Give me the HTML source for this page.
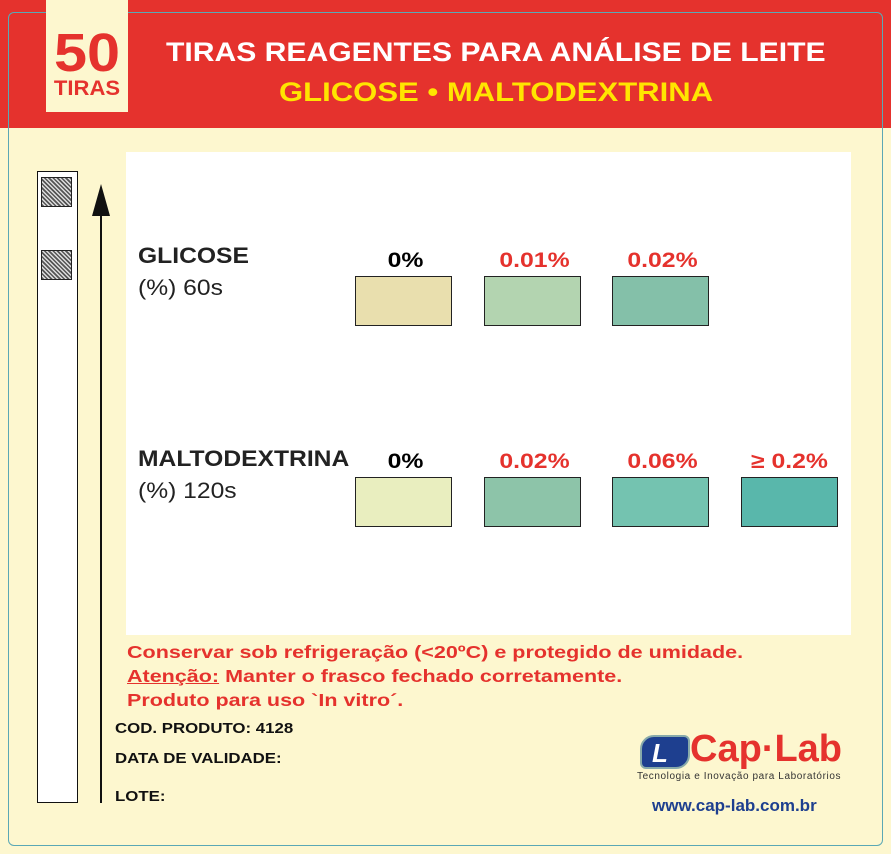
<!DOCTYPE html>
<html><head><meta charset="utf-8"><style>
*{margin:0;padding:0;box-sizing:border-box}
body{width:891px;height:854px;position:relative;background:#fdf7cf;font-family:"Liberation Sans",sans-serif;overflow:hidden}
.a{position:absolute}
.hdr{left:0;top:0;width:891px;height:128px;background:#e5322d}
.t{color:#fff;font-weight:bold;font-size:27px;white-space:nowrap;transform:scaleX(1.115);transform-origin:left}
.y{color:#ffe500;font-weight:bold;font-size:27px;white-space:nowrap;transform:scaleX(1.15);transform-origin:left}
.sw{border:1.5px solid #222;width:97px;height:50px}
.pl{font-weight:bold;font-size:21px;white-space:nowrap;text-align:center;width:97px;transform:scaleX(1.18)}
.r{color:#e5322d}
.red{color:#e5322d;font-weight:bold;font-size:17.5px;white-space:nowrap;transform:scaleX(1.23);transform-origin:left}
.blk{color:#111;font-weight:bold;font-size:14.5px;white-space:nowrap;transform:scaleX(1.16);transform-origin:left}
.pad{left:41px;width:31px;height:30px;border:1.5px solid #222;background:repeating-linear-gradient(45deg,#555 0 1.5px,#ddd 1.5px 3px)}
.lb{transform:scaleX(1.12);transform-origin:left}
</style></head><body>
<div class="a hdr"></div>
<div class="a" style="left:8px;top:12px;width:875px;height:834px;border:1.5px solid #5aa8b5;border-radius:6px"></div>
<div class="a" style="left:46px;top:0;width:82px;height:112px;background:#fdf7cf"></div>
<div class="a" style="left:46px;top:28px;width:82px;text-align:center;color:#e5322d;font-weight:bold;font-size:54px;line-height:50px;transform:scaleX(1.1)">50</div>
<div class="a" style="left:46px;top:78px;width:82px;text-align:center;color:#e5322d;font-weight:bold;font-size:21px;line-height:22px;transform:scaleX(1.05)">TIRAS</div>
<div class="a t" style="left:166px;top:37px">TIRAS REAGENTES PARA ANÁLISE DE LEITE</div>
<div class="a y" style="left:279px;top:77px">GLICOSE • MALTODEXTRINA</div>
<div class="a" style="left:126px;top:152px;width:725px;height:483px;background:#fff"></div>
<div class="a" style="left:37px;top:171px;width:41px;height:632px;border:1.5px solid #111;background:#fff"></div>
<div class="a pad" style="top:177px"></div>
<div class="a pad" style="top:250px"></div>
<div class="a" style="left:100px;top:200px;width:2px;height:603px;background:#111"></div>
<div class="a" style="left:92px;top:184px;width:0;height:0;border-left:9px solid transparent;border-right:9px solid transparent;border-bottom:32px solid #111"></div>
<div class="a lb" style="left:138px;top:243px;font-weight:bold;font-size:22px;color:#222">GLICOSE</div>
<div class="a lb" style="left:138px;top:275px;font-size:22px;color:#222">(%) 60s</div>
<div class="a lb" style="left:138px;top:446px;font-weight:bold;font-size:22px;color:#222">MALTODEXTRINA</div>
<div class="a lb" style="left:138px;top:478px;font-size:22px;color:#222">(%) 120s</div>
<div class="a pl" style="left:357px;top:249px">0%</div>
<div class="a pl r" style="left:486px;top:249px">0.01%</div>
<div class="a pl r" style="left:614px;top:249px">0.02%</div>
<div class="a sw" style="left:355px;top:276px;background:#e9dfae"></div>
<div class="a sw" style="left:484px;top:276px;background:#b3d4b0"></div>
<div class="a sw" style="left:612px;top:276px;background:#84c0a9"></div>
<div class="a pl" style="left:357px;top:450px">0%</div>
<div class="a pl r" style="left:486px;top:450px">0.02%</div>
<div class="a pl r" style="left:614px;top:450px">0.06%</div>
<div class="a pl r" style="left:741px;top:450px">≥ 0.2%</div>
<div class="a sw" style="left:355px;top:477px;background:#e9eebf"></div>
<div class="a sw" style="left:484px;top:477px;background:#8dc4a9"></div>
<div class="a sw" style="left:612px;top:477px;background:#74c3b0"></div>
<div class="a sw" style="left:741px;top:477px;background:#59b7ab"></div>
<div class="a red" style="left:127px;top:642px">Conservar sob refrigeração (&lt;20ºC) e protegido de umidade.</div>
<div class="a red" style="left:127px;top:666px"><u>Atenção:</u> Manter o frasco fechado corretamente.</div>
<div class="a red" style="left:127px;top:690px">Produto para uso `In vitro´.</div>
<div class="a blk" style="left:115px;top:721px">COD. PRODUTO: 4128</div>
<div class="a blk" style="left:115px;top:751px">DATA DE VALIDADE:</div>
<div class="a blk" style="left:115px;top:789px">LOTE:</div>
<div class="a" style="left:640px;top:735px;width:50px;height:34px;background:#1e3f8f;border-radius:14px 6px 14px 6px;border:2px solid #8aa"></div>
<div class="a" style="left:652px;top:740px;color:#fff;font-weight:bold;font-style:italic;font-size:26px;line-height:26px">L</div>
<div class="a" style="left:690px;top:728px;color:#e5322d;font-weight:bold;font-size:38px;line-height:42px">Cap·Lab</div>
<div class="a" style="left:637px;top:771px;color:#333;font-size:10px;letter-spacing:0.6px;white-space:nowrap">Tecnologia e Inovação para Laboratórios</div>
<div class="a" style="left:652px;top:796px;color:#1e3f8f;font-weight:bold;font-size:17px;white-space:nowrap">www.cap-lab.com.br</div>
</body></html>
